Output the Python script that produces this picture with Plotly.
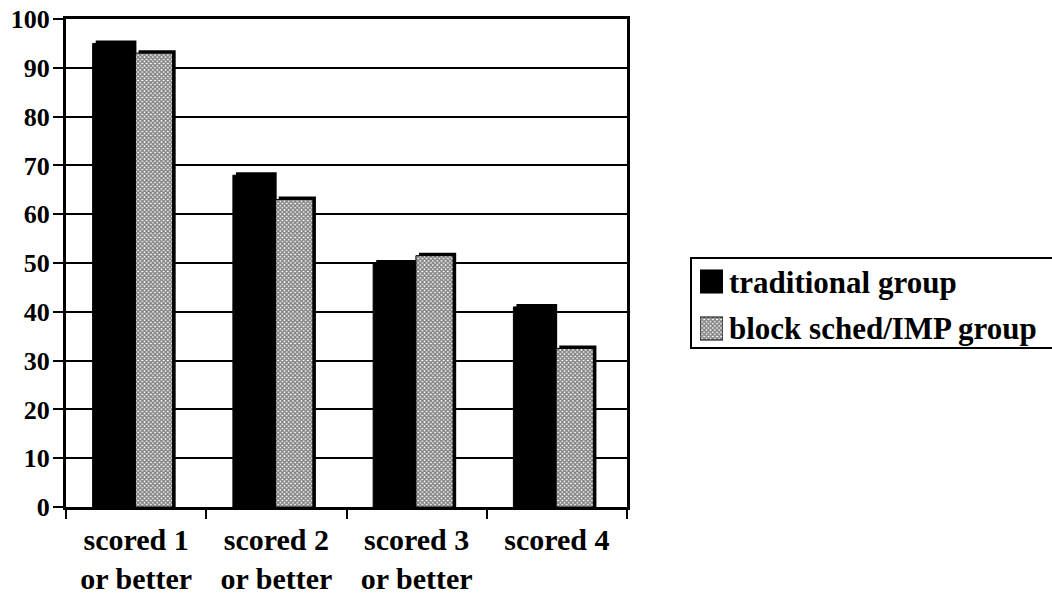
import plotly.graph_objects as go

# Percent of students reaching each score level
categories = ["scored 1<br>or better", "scored 2<br>or better", "scored 3<br>or better", "scored 4"]
traditional = [95, 68, 50, 41]
block_imp = [93, 63, 51.5, 32.5]
series_names = ["traditional group", "block sched/IMP group"]
y_ticks = list(range(0, 101, 10))

W, H = 1052, 597
ML, MT, MB = 66, 19, 90
PLOT_W = 561
PAPER_W = W - ML
PAPER_H = H - MT - MB

# depth effect: a black copy of each bar, shifted up and to the right
DX = 0.022              # in category units (~3 px)
DY = 3 / PAPER_H * 100  # in value units (~3 px)

FONT = "Liberation Serif"
pattern = dict(shape="x", size=3, solidity=0.7, fgcolor="black", bgcolor="white")

fig = go.Figure()

# depth layers first
fig.add_trace(go.Bar(x=categories, y=[v + DY for v in traditional], offset=-0.31 + DX, width=0.29,
                     marker=dict(color="black", line=dict(width=0)), showlegend=False, hoverinfo="skip"))
fig.add_trace(go.Bar(x=categories, y=[v + DY for v in block_imp], offset=-0.005 + DX, width=0.265,
                     marker=dict(color="black", line=dict(width=0)), showlegend=False, hoverinfo="skip"))
# bar faces
fig.add_trace(go.Bar(x=categories, y=traditional, offset=-0.31, width=0.29, name=series_names[0],
                     marker=dict(color="black", line=dict(color="black", width=1)), showlegend=False))
fig.add_trace(go.Bar(x=categories, y=block_imp, offset=-0.005, width=0.265, name=series_names[1],
                     marker=dict(color="white", pattern=pattern, line=dict(color="black", width=1)),
                     showlegend=False))

# legend swatches on a small hidden axis pair
fig.add_trace(go.Bar(x=[1], y=[1], width=0.49, orientation="h", xaxis="x2", yaxis="y2",
                     marker=dict(color="black", line=dict(color="black", width=1)),
                     showlegend=False, hoverinfo="skip"))
fig.add_trace(go.Bar(x=[1], y=[0], width=0.49, orientation="h", xaxis="x2", yaxis="y2",
                     marker=dict(color="white", pattern=pattern, line=dict(color="black", width=1)),
                     showlegend=False, hoverinfo="skip"))


def px_x(p):
    return (p - ML) / PAPER_W


def px_y(p):
    return (H - MB - p) / PAPER_H


fig.update_layout(
    width=W, height=H,
    margin=dict(l=ML, r=0, t=MT, b=MB, autoexpand=False),
    paper_bgcolor="white", plot_bgcolor="white",
    barmode="overlay",
    showlegend=False,
    font=dict(family=FONT, color="black"),
    xaxis=dict(
        domain=[0, PLOT_W / PAPER_W],
        type="category", automargin=False,
        showline=True, linecolor="black", linewidth=3, mirror=True,
        ticks="outside", tickson="boundaries", ticklen=9, tickwidth=2, tickcolor="black",
        ticklabelstandoff=4,
        tickfont=dict(family=FONT, size=30, weight="bold", color="black"),
        showgrid=False, zeroline=False, fixedrange=True,
    ),
    yaxis=dict(
        range=[0, 100], automargin=False,
        tickvals=y_ticks,
        showline=True, linecolor="black", linewidth=3, mirror=True,
        ticks="outside", ticklen=10, tickwidth=2, tickcolor="black",
        ticklabelstandoff=-2,
        tickfont=dict(family=FONT, size=26, weight="bold", color="black"),
        showgrid=True, gridcolor="black", gridwidth=2,
        zeroline=False, fixedrange=True,
    ),
    xaxis2=dict(domain=[px_x(700), px_x(723)], range=[0, 1], anchor="y2",
                visible=False, fixedrange=True),
    yaxis2=dict(domain=[px_y(352), px_y(258)], range=[-0.5, 1.5], anchor="x2",
                visible=False, fixedrange=True),
)

# legend frame
fig.add_shape(type="rect", xref="paper", yref="paper",
              x0=px_x(691), x1=px_x(1062), y0=px_y(348), y1=px_y(258),
              line=dict(color="black", width=2), fillcolor="rgba(0,0,0,0)", layer="below")

for name, py in zip(series_names, [282, 328]):
    fig.add_annotation(text=name, xref="paper", yref="paper", x=px_x(727), y=px_y(py),
                       xanchor="left", yanchor="middle", showarrow=False,
                       font=dict(family=FONT, size=31, weight="bold", color="black"))

fig.write_html("out.html")
